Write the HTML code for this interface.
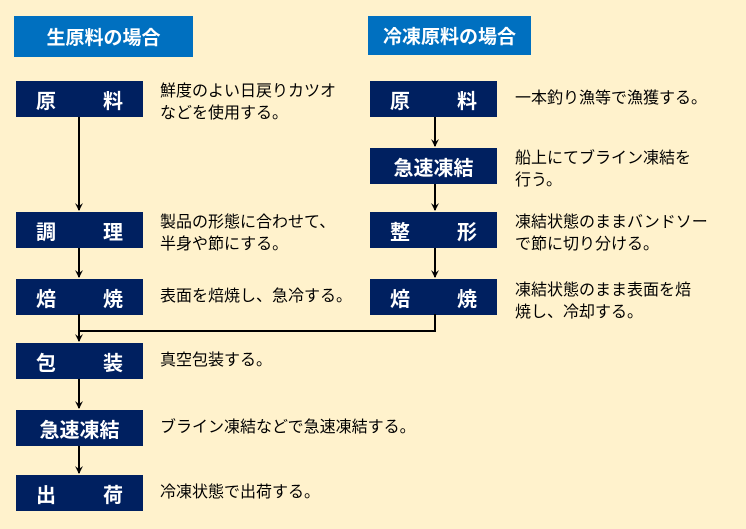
<!DOCTYPE html>
<html><head><meta charset="utf-8"><style>
body{margin:0;width:746px;height:529px;background:#fff2cc;position:relative;overflow:hidden;font-family:"Liberation Sans","Noto Sans CJK JP",sans-serif}
.h{position:absolute;background:#0070c0;color:#fff;font-weight:bold;font-size:19px;display:flex;align-items:center;justify-content:center}
.b{position:absolute;background:#002060;color:#fff;font-weight:bold;font-size:20px;height:36px;display:flex;align-items:center;justify-content:space-between;box-sizing:border-box;padding:0 20px 0 20px}
.b.c{justify-content:center}
.t{position:absolute;font-size:16px;line-height:22px;color:#000;white-space:nowrap}
svg{position:absolute;left:0;top:0}
</style></head><body>
<div class="h" style="left:14px;top:16px;width:179px;height:41px">生原料の場合</div>
<div class="h" style="left:368px;top:16px;width:163px;height:39px">冷凍原料の場合</div>

<div class="b" style="left:16px;top:81px;width:127px"><span>原</span><span>料</span></div>
<div class="b" style="left:16px;top:212px;width:127px"><span>調</span><span>理</span></div>
<div class="b" style="left:16px;top:279px;width:127px"><span>焙</span><span>焼</span></div>
<div class="b" style="left:16px;top:343px;width:127px"><span>包</span><span>装</span></div>
<div class="b c" style="left:16px;top:410px;width:127px">急速凍結</div>
<div class="b" style="left:16px;top:475px;width:127px"><span>出</span><span>荷</span></div>

<div class="b" style="left:370px;top:81px;width:127px"><span>原</span><span>料</span></div>
<div class="b c" style="left:370px;top:148px;width:127px">急速凍結</div>
<div class="b" style="left:370px;top:212px;width:127px"><span>整</span><span>形</span></div>
<div class="b" style="left:370px;top:279px;width:127px"><span>焙</span><span>焼</span></div>

<div class="t" style="left:160px;top:81px">鮮度のよい日戻りカツオ<br>などを使用する。</div>
<div class="t" style="left:160px;top:212px">製品の形態に合わせて、<br>半身や節にする。</div>
<div class="t" style="left:160px;top:286px">表面を焙焼し、急冷する。</div>
<div class="t" style="left:160px;top:350px">真空包装する。</div>
<div class="t" style="left:160px;top:417px">ブライン凍結などで急速凍結する。</div>
<div class="t" style="left:160px;top:482px">冷凍状態で出荷する。</div>
<div class="t" style="left:515px;top:88px">一本釣り漁等で漁獲する。</div>
<div class="t" style="left:515px;top:148px">船上にてブライン凍結を<br>行う。</div>
<div class="t" style="left:515px;top:212px">凍結状態のままバンドソー<br>で節に切り分ける。</div>
<div class="t" style="left:515px;top:280px">凍結状態のまま表面を焙<br>焼し、冷却する。</div>

<svg width="746" height="529">
<g stroke="#000" stroke-width="2" fill="none">
<line x1="79" y1="117" x2="79" y2="210"/>
<line x1="79" y1="248" x2="79" y2="277"/>
<line x1="79" y1="314" x2="79" y2="341"/>
<line x1="79" y1="379" x2="79" y2="408"/>
<line x1="79" y1="446" x2="79" y2="473"/>
<line x1="435" y1="117" x2="435" y2="146"/>
<line x1="435" y1="184" x2="435" y2="210"/>
<line x1="435" y1="248" x2="435" y2="277"/>
<polyline points="435,314 435,331 79,331"/>
</g>
<g fill="#000">
<path d="M75,203 L79,211 L83,203 L79,206Z"/>
<path d="M75,270 L79,278 L83,270 L79,273Z"/>
<path d="M75,334 L79,342 L83,334 L79,337Z"/>
<path d="M75,401 L79,409 L83,401 L79,404Z"/>
<path d="M75,466 L79,474 L83,466 L79,469Z"/>
<path d="M431,139 L435,147 L439,139 L435,142Z"/>
<path d="M431,203 L435,211 L439,203 L435,206Z"/>
<path d="M431,270 L435,278 L439,270 L435,273Z"/>
</g>
</svg>
</body></html>
